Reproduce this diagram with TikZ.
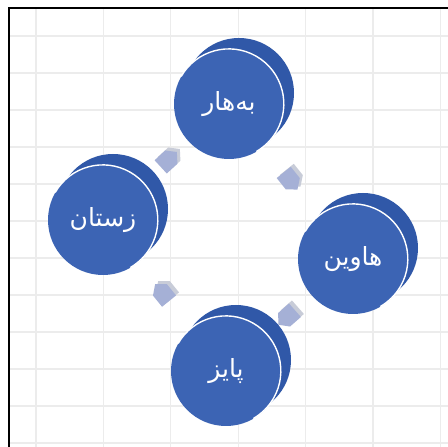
\documentclass[tikz,border=0pt]{standalone}
\usepackage{fontspec}
\newfontfamily\arabicfont[Script=Arabic]{DejaVu Sans}
\TeXXeTstate=1
\usetikzlibrary{shapes.symbols}

\definecolor{diskblue}{RGB}{60,100,180}
\definecolor{diskback}{RGB}{48,88,168}
\definecolor{arrowblue}{RGB}{165,176,214}
\definecolor{arrowside}{RGB}{200,204,216}
\definecolor{gridgray}{RGB}{236,236,236}

\tikzset{
  season/.style={circle, minimum size=110pt, inner sep=0pt, fill=diskblue, text=white,
    font=\arabicfont\fontsize{25}{30}\selectfont,
    preaction={fill=diskback, transform canvas={shift={(10pt,11pt)}}}},
  rim/.style={white, line width=1.4pt},
  cyclearrow/.style={signal, signal to=east, signal pointer angle=100,
    minimum width=22pt, minimum height=18pt, inner sep=0pt, fill=arrowblue,
    sloped, allow upside down,
    preaction={fill=arrowside, transform canvas={shift={(3pt,3pt)}}}}
}

\begin{document}
\begin{tikzpicture}[x=1pt, y=1pt]
\useasboundingbox (0,0) rectangle (448,447);
\fill[white] (0,0) rectangle (448,447);

% grid
\foreach \gx in {36,103.4,170.8,238.2,305.6,373,440.4}
  \draw[gridgray, line width=1.2pt] (\gx,0) -- (\gx,439);
\foreach \gy in {4,41,78,115,152,189,226,263,300,337,374,411}
  \draw[gridgray, line width=1.2pt] (9,\gy) -- (448,\gy);

% frame
\draw[line width=1.6pt] (9,0) -- (9,439) -- (448,439);

% seasons
\node[season] (spring) at (229,343) {\beginR بەهار\endR};
\node[season] (summer) at (353,188) {\beginR هاوین\endR};
\node[season] (autumn) at (226,76) {\beginR پایز\endR};
\node[season] (winter) at (103,227) {\beginR زستان\endR};

% rims
\foreach \s in {spring,summer,autumn,winter}
  \draw[rim] (\s.150) arc[start angle=150, end angle=-60, radius=55pt];

% arrows
\path (spring) -- node[cyclearrow, pos=0.45] {} (summer);
\path (summer) -- node[cyclearrow] {} (autumn);
\path (autumn) -- node[cyclearrow] {} (winter);
\path (winter) -- node[cyclearrow] {} (spring);
\end{tikzpicture}
\end{document}
